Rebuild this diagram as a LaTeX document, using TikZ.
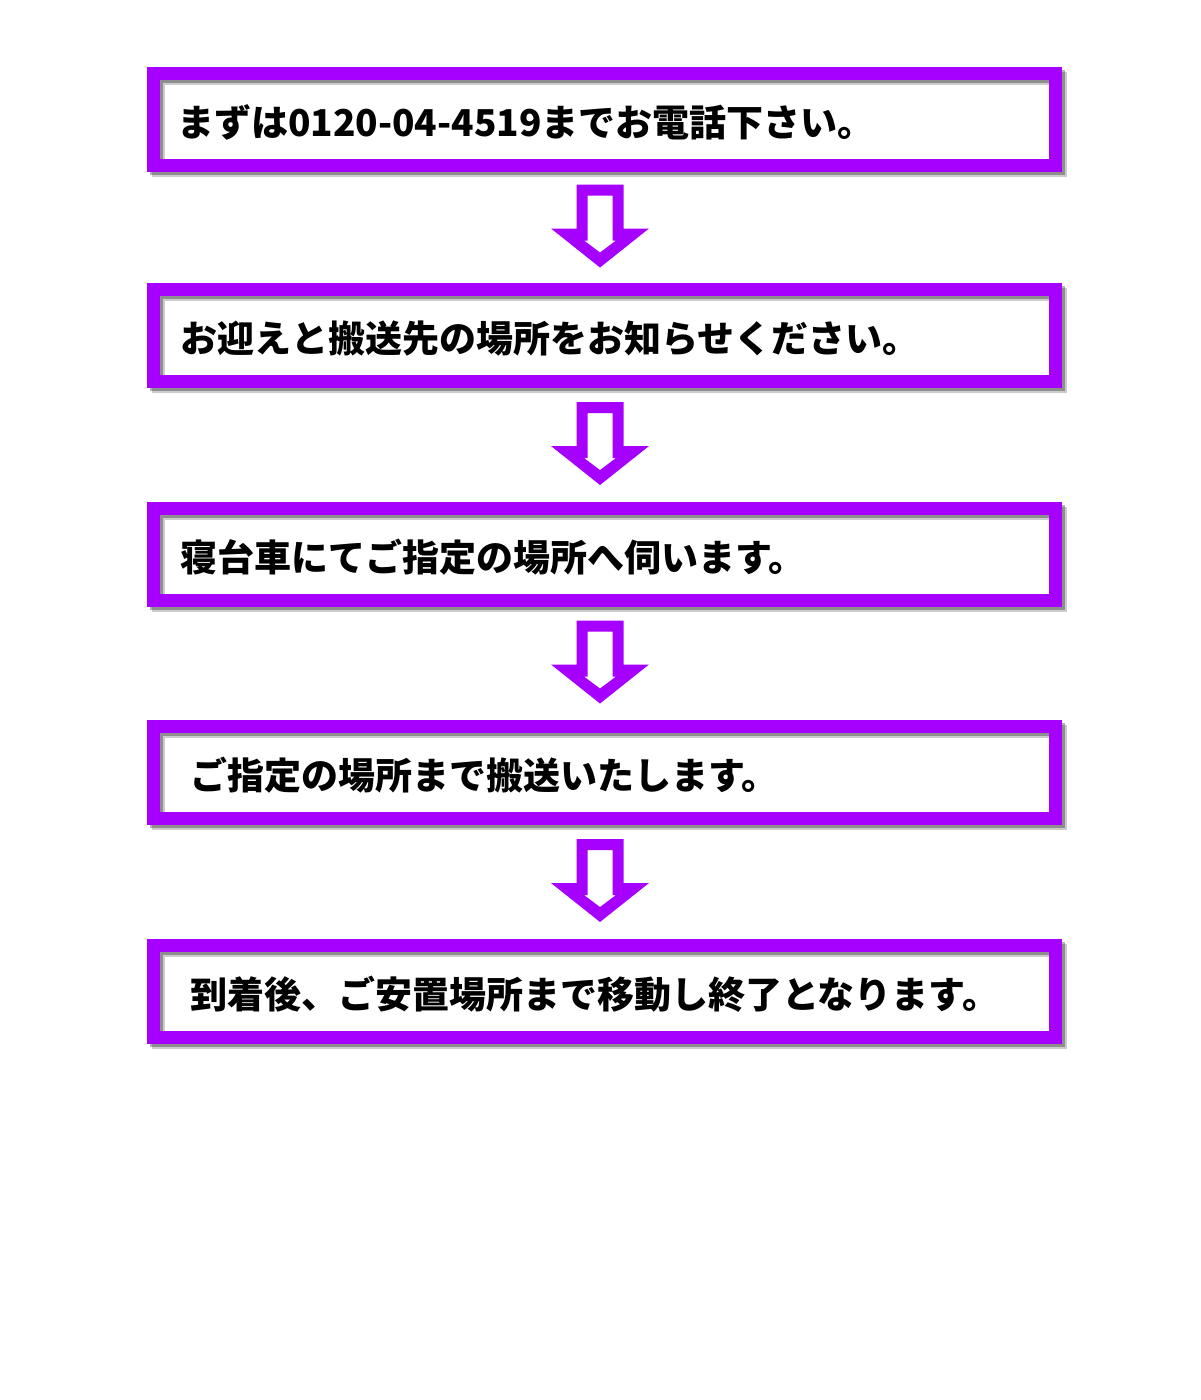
\documentclass[tikz,border=0pt]{standalone}
\usepackage{fontspec}
\newfontfamily\jp{Noto Sans CJK JP}
\usepackage{tikz}
\usetikzlibrary{calc}
\definecolor{stepviolet}{RGB}{166,0,255}

\begin{document}
\begin{tikzpicture}[x=1pt, y=-1pt,
      stepbox/.style={rectangle, draw=stepviolet, line width=13pt, minimum width=902pt, minimum height=92pt,
        text width=855pt, text height=36pt, text depth=1pt, align=left,
        font=\jp\bfseries\fontsize{37}{40}\selectfont,
        preaction={draw=black, draw opacity=0.2, line width=13pt, transform canvas={shift={(5pt,-5pt)}}},
        preaction={draw=black, draw opacity=0.3, line width=13pt, transform canvas={shift={(3pt,-3pt)}}}},
      downarrow/.style={fill=stepviolet, even odd rule}]

      \fill[white] (0,0) rectangle (1200,1400);
      \useasboundingbox (0,0) rectangle (1200,1400);

      \node[stepbox] (call) at (604.5,119) {まずは0120-04-4519までお電話下さい。};
      \node[stepbox, text width=849pt] (tell) at (604.5,335) {お迎えと搬送先の場所をお知らせください。};
      \node[stepbox, text width=849pt] (visit) at (604.5,554) {寝台車にてご指定の場所へ伺います。};
      \node[stepbox, text width=829pt] (carry) at (604.5,772) {ご指定の場所まで搬送いたします。};
      \node[stepbox, text width=829pt] (arrive) at (604.5,991) {到着後、ご安置場所まで移動し終了となります。};

      % Hollow arrows between the steps
      \foreach \a/\b in {call/tell, tell/visit, visit/carry, carry/arrive} {
        \coordinate (m) at ($(\a.south)!0.5!(\b.north)+(-4.5,0)$);
        \fill[downarrow] ($(m)+(-23.5,-42.5)$) -- ++(47,0) -- ++(0,44) -- ++(25.5,0) -- ($(m)+(0,40.5)$)
          -- ($(m)+(-49,1.5)$) -- ++(25.5,0) -- cycle
          ($(m)+(-12.5,-31.5)$) -- ++(25,0) -- ++(0,45) -- ++(3.5,0) -- ($(m)+(0,25.5)$)
          -- ($(m)+(-16,13.5)$) -- ++(3.5,0) -- cycle;
      }
    \end{tikzpicture}
\end{document}
